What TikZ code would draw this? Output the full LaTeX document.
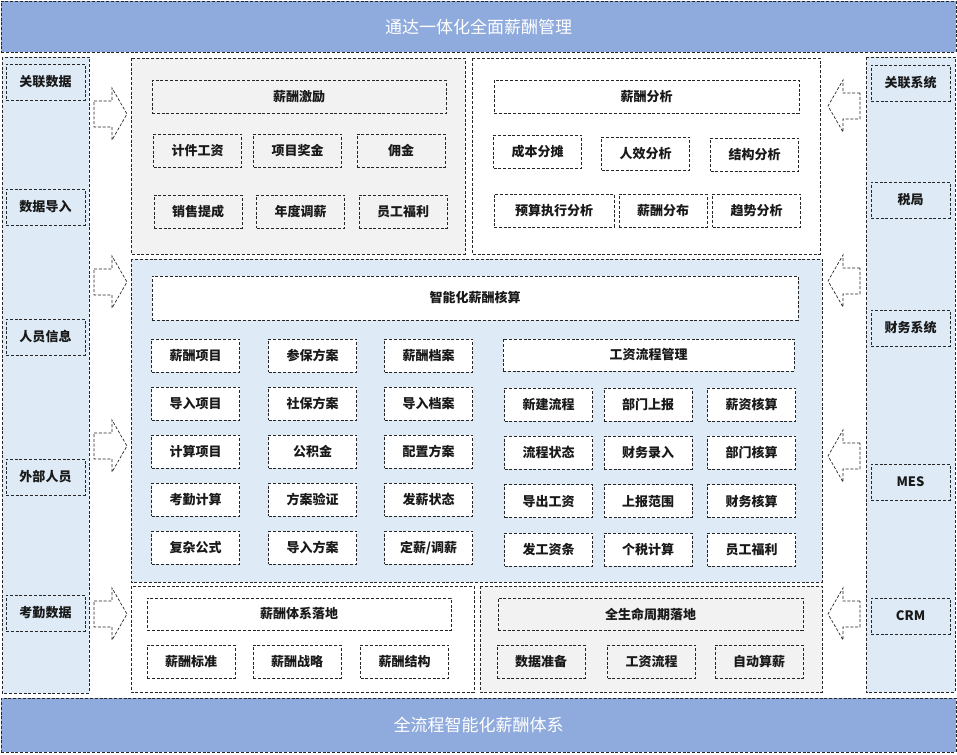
\documentclass[tikz,border=0pt]{standalone}
\usepackage{fontspec}
\newfontfamily\cjk{Noto Sans CJK SC}
\definecolor{banner}{HTML}{8FAADC}
\definecolor{paleblue}{HTML}{DEEBF7}
\definecolor{palegray}{HTML}{F2F2F2}
\definecolor{ink}{HTML}{262626}

\begin{document}
\begin{tikzpicture}[x=1pt,y=-1pt,
  frame/.style={draw=ink,dash pattern=on 3pt off 1.8pt,line width=0.7pt},
  item/.style={frame,inner sep=0pt,text=black!90,font={\cjk\bfseries\fontsize{13}{15}\selectfont}},
  cell/.style={item,minimum width=88,minimum height=33},
  head/.style={item,minimum height=33},
  banner/.style={frame,fill=banner,text=white,minimum width=955,font={\cjk\fontsize{17}{19}\selectfont}}]

  \useasboundingbox (0,0) rectangle (957,754);

  % Banners
  \node[banner,minimum height=51] (top) at (478.5,26.5) {通达一体化全面薪酬管理};
  \node[banner,minimum height=54] (bottom) at (478.5,725) {全流程智能化薪酬体系};

  % Side columns
  \draw[frame,fill=paleblue] (2,57) rectangle (89,693) (866,57) rectangle (955,692);
  \foreach \n/\y/\t in {rel/82/关联数据, import/207/数据导入, staff/337/人员信息, extern/477/外部人员, attend/613/考勤数据}
    \node[item,minimum width=79,minimum height=36] (\n) at (45.5,\y) {\t};
  \foreach \n/\y/\t in {relsys/83/关联系统, tax/200/税局, finance/328/财务系统, mes/482/MES, crm/616/CRM}
    \node[item,minimum width=79,minimum height=36] (\n) at (910.5,\y) {\t};

  % Arrows in and out
  \foreach \y in {114,282,446,614}
    \draw[frame,fill=white] (94,\y-13) -- (112,\y-13) -- (112,\y-26) -- (127,\y) -- (112,\y+26) -- (112,\y+13) -- (94,\y+13) -- cycle;
  \foreach \y in {106,281,456,614}
    \draw[frame,fill=white] (860,\y-13) -- (843,\y-13) -- (843,\y-26) -- (828,\y) -- (843,\y+26) -- (843,\y+13) -- (860,\y+13) -- cycle;

  % Incentive
  \draw[frame,fill=palegray] (131,58) rectangle (465,254);
  \node[head,minimum width=294] (incentive) at (299,97) {薪酬激励};
  \foreach \n/\x/\y/\t in {piece/197.5/150.5/计件工资, bonus/297.5/150.5/项目奖金, commission/401/150.5/佣金,
      sales/198/211.5/销售提成, annual/300.5/211.5/年度调薪, welfare/403/211.5/员工福利}
    \node[cell] (\n) at (\x,\y) {\t};

  % Analysis
  \draw[frame,fill=white] (472,58) rectangle (820,254);
  \node[head,minimum width=305] (analysis) at (646.5,96.5) {薪酬分析};
  \foreach \n/\x/\y/\w/\t in {cost/537.5/151.5/88/成本分摊, efficiency/645.5/153.5/88/人效分析, structure/754.5/154.5/88/结构分析,
      budget/554/210.5/120/预算执行分析, distrib/663/210.5/88/薪酬分布, trend/756.5/210.5/88/趋势分析}
    \node[cell,minimum width=\w] (\n) at (\x,\y) {\t};

  % Payroll accounting
  \draw[frame,fill=paleblue] (131,259) rectangle (822,582);
  \node[head,fill=white,minimum width=646,minimum height=44] (payroll) at (475,298) {智能化薪酬核算};
  \foreach \t [count=\i] in {薪酬项目,导入项目,计算项目,考勤计算,复杂公式}
    \node[cell,fill=white] (item\i) at (195.5,{355.5+48.1*(\i-1)}) {\t};
  \foreach \t [count=\i] in {参保方案,社保方案,公积金,方案验证,导入方案}
    \node[cell,fill=white] (plan\i) at (312.5,{355.5+48.1*(\i-1)}) {\t};
  \foreach \t [count=\i] in {薪酬档案,导入档案,配置方案,发薪状态,{定薪/调薪}}
    \node[cell,fill=white] (file\i) at (428.5,{355.5+48.1*(\i-1)}) {\t};
  \node[head,fill=white,minimum width=291,minimum height=32] (flow) at (648.5,355) {工资流程管理};
  \foreach \a/\b/\c [count=\i] in {新建流程/部门上报/薪资核算, 流程状态/财务录入/部门核算,
      导出工资/上报范围/财务核算, 发工资条/个税计算/员工福利} {
    \node[cell,fill=white] (flowA\i) at (548.5,{404.5+48.3*(\i-1)}) {\a};
    \node[cell,fill=white] (flowB\i) at (648,{404.5+48.3*(\i-1)}) {\b};
    \node[cell,fill=white] (flowC\i) at (751.5,{404.5+48.3*(\i-1)}) {\c};
  }

  % Landing
  \draw[frame,fill=white] (131,586) rectangle (474,692);
  \node[head,minimum width=304,minimum height=32] (system) at (299,614) {薪酬体系落地};
  \foreach \n/\x/\t in {standard/191/薪酬标准, strategy/297/薪酬战略, paystruct/404.5/薪酬结构}
    \node[cell] (\n) at (\x,661.5) {\t};
  \draw[frame,fill=palegray] (480,586) rectangle (822,692);
  \node[head,minimum width=305,minimum height=32] (lifecycle) at (650.5,614) {全生命周期落地};
  \foreach \n/\x/\t in {prepare/541/数据准备, wageflow/651.5/工资流程, autopay/759/自动算薪}
    \node[cell] (\n) at (\x,661.5) {\t};

\end{tikzpicture}
\end{document}
